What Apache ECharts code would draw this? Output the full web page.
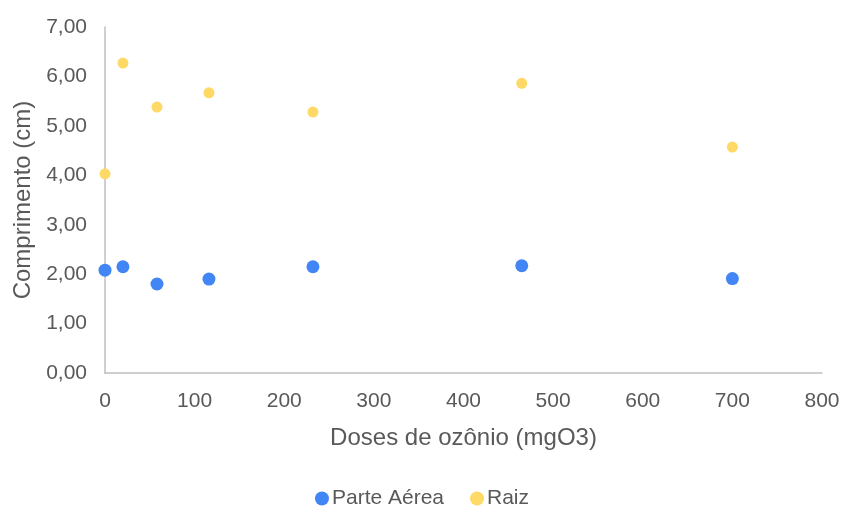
<!DOCTYPE html>
<html><head><meta charset="utf-8">
<script src="https://cdn.jsdelivr.net/npm/echarts@6/dist/echarts.min.js"></script>
<style>html,body{margin:0;padding:0;background:#fff}#c{width:844px;height:506px}</style>
</head><body><div id="c"></div>
<script>
var doses = [0, 20, 58, 116, 232, 465, 700];
var parteAerea = [2.08, 2.15, 1.80, 1.90, 2.15, 2.17, 1.91];
var raiz = [4.03, 6.27, 5.38, 5.67, 5.28, 5.86, 4.57];
var seriesNames = ['Parte Aérea', 'Raiz'];
var xTitle = 'Doses de ozônio (mgO3)';
var yTitle = 'Comprimento (cm)';

function pairs(xs, ys){ return xs.map(function(x,i){ return [x, ys[i]]; }); }
var font = 'Liberation Sans, Arial, sans-serif';
var chart = echarts.init(document.getElementById('c'));
chart.setOption({
  animation: false,
  textStyle: {fontFamily: font},
  grid: {left: 105, right: 22, top: 27, bottom: 133},
  legend: {
    top: 483, left: 'center', itemWidth: 14, itemHeight: 14, itemGap: 26,
    icon: 'circle',
    textStyle: {fontSize: 21, color: '#595959', fontFamily: font, padding: [0, 0, 0, -2]},
    data: seriesNames
  },
  xAxis: {
    type: 'value', min: 0, max: 800, interval: 100,
    name: xTitle, nameLocation: 'middle', nameGap: 53,
    nameTextStyle: {fontSize: 24, color: '#595959', fontFamily: font},
    axisLine: {show: true, lineStyle: {color: '#bfbfbf', width: 1.5}},
    axisTick: {show: false},
    splitLine: {show: false},
    axisLabel: {fontSize: 21, color: '#595959', margin: 18, fontFamily: font},
    z: 0
  },
  yAxis: {
    type: 'value', min: 0, max: 7, interval: 1,
    name: yTitle, nameLocation: 'middle', nameGap: 70,
    nameTextStyle: {fontSize: 24, color: '#595959', fontFamily: font},
    axisLine: {show: true, lineStyle: {color: '#bfbfbf', width: 1.5}},
    axisTick: {show: false},
    splitLine: {show: false},
    axisLabel: {fontSize: 21, color: '#595959', margin: 18, fontFamily: font,
      formatter: function(v){ return v.toFixed(2).replace('.', ','); }}
  },
  series: [
    {name: seriesNames[0], type: 'scatter', data: pairs(doses, parteAerea),
     symbolSize: 13, itemStyle: {color: '#4285F4', opacity: 1}},
    {name: seriesNames[1], type: 'scatter', data: pairs(doses, raiz),
     symbolSize: 11, itemStyle: {color: '#FFD966', opacity: 1}}
  ]
});
</script></body></html>
